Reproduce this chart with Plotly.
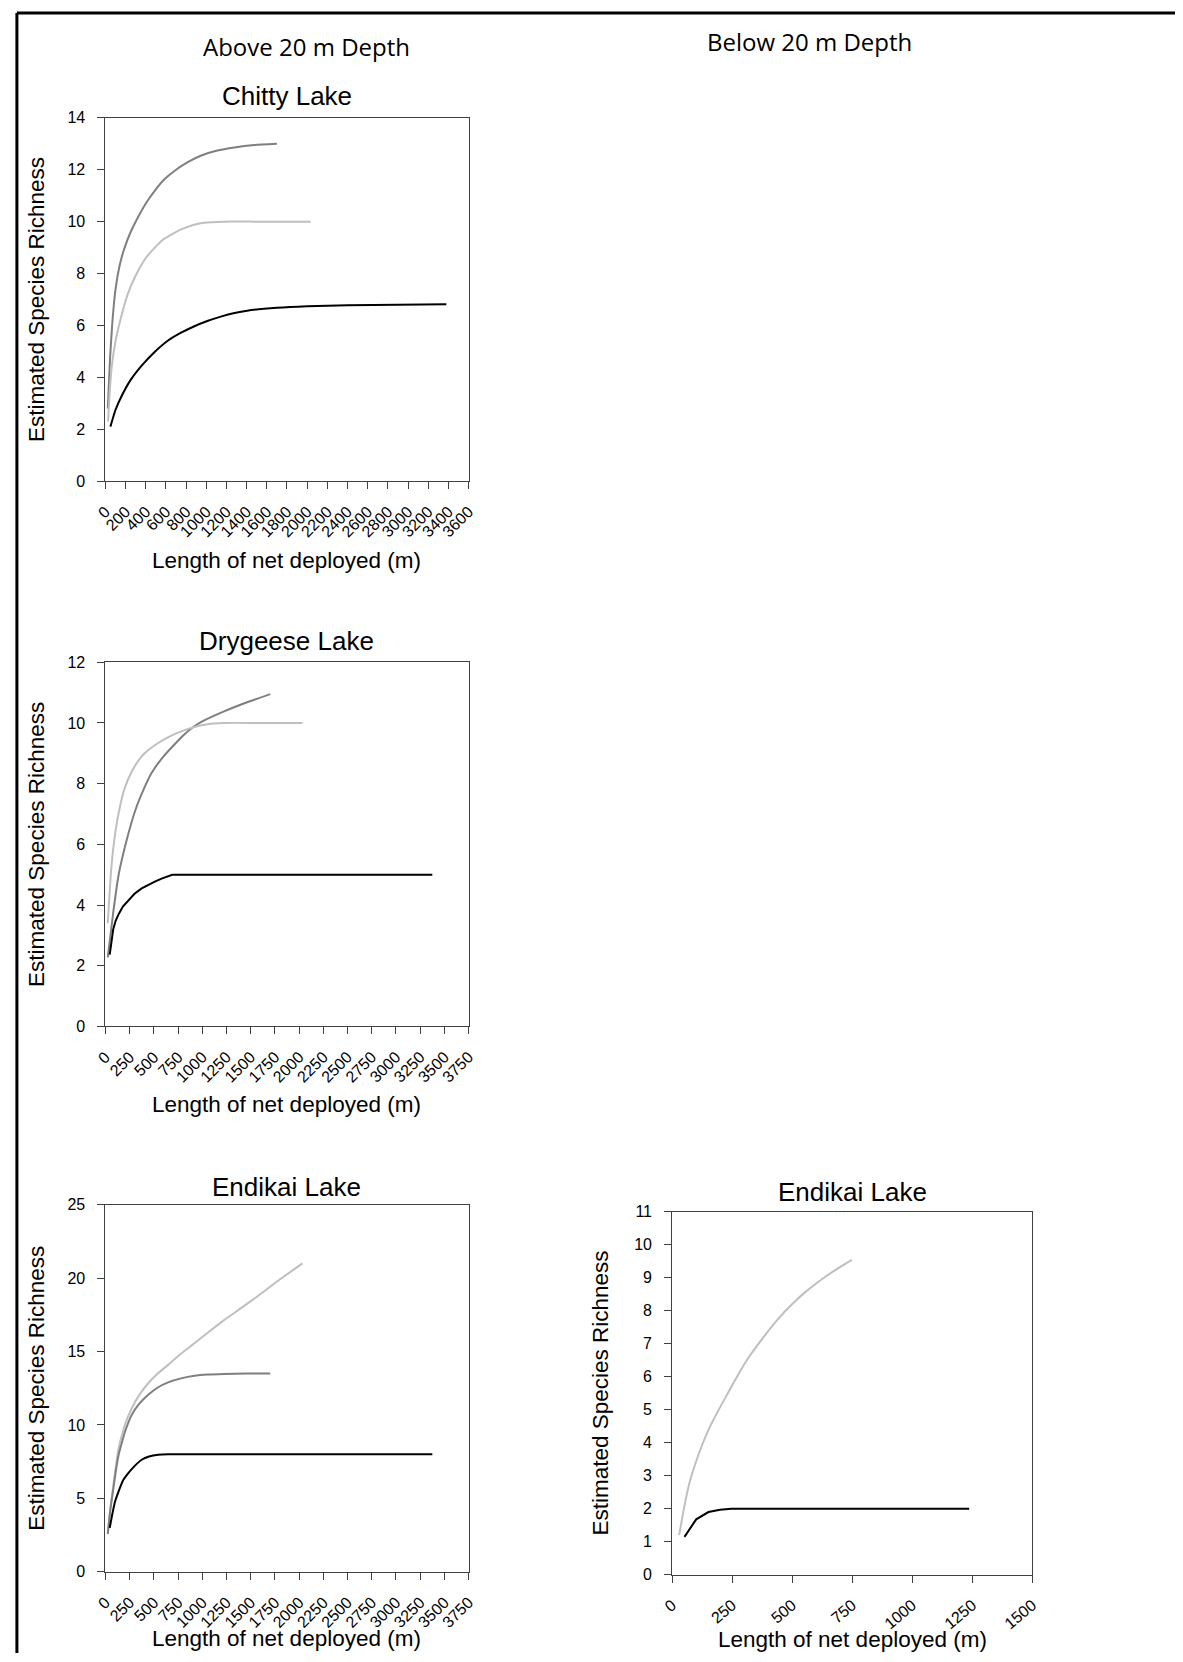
import plotly.graph_objects as go

# ---- figure size (pixels) ----
W, H = 1183, 1662

# ---- rarefaction curves: length of net deployed (m) vs estimated species richness ----
# Chitty Lake (above 20 m)
chitty_dark_x = [23, 45, 70, 100, 140, 190, 250, 320, 400, 490, 590, 700, 820, 950, 1100, 1280, 1480, 1700]
chitty_dark_y = [2.8, 4.7, 6.2, 7.4, 8.3, 9.0, 9.6, 10.15, 10.7, 11.2, 11.65, 12.0, 12.3, 12.55, 12.73, 12.86, 12.95, 13.0]
chitty_light_x = [26, 45, 65, 100, 147, 220, 310, 400, 490, 570, 653, 740, 817, 900, 980, 1176, 1500, 2035]
chitty_light_y = [2.3, 3.6, 4.5, 5.4, 6.2, 7.2, 8.0, 8.6, 9.0, 9.3, 9.5, 9.68, 9.8, 9.9, 9.96, 10.0, 10.0, 10.0]
chitty_black_x = [49, 100, 163, 250, 359, 480, 621, 750, 882, 1010, 1144, 1280, 1405, 1700, 2000, 2400, 2900, 3380]
chitty_black_y = [2.1, 2.75, 3.3, 3.9, 4.45, 4.95, 5.42, 5.72, 5.97, 6.17, 6.34, 6.48, 6.57, 6.68, 6.74, 6.78, 6.8, 6.82]

# Drygeese Lake (above 20 m)
dry_dark_x = [24, 80, 136, 220, 306, 400, 476, 600, 715, 800, 900, 1000, 1225, 1463, 1702]
dry_dark_y = [2.28, 3.75, 5.0, 6.15, 7.1, 7.85, 8.35, 8.9, 9.3, 9.58, 9.85, 10.05, 10.38, 10.68, 10.95]
dry_light_x = [24, 60, 102, 150, 204, 280, 374, 460, 545, 660, 783, 900, 1055, 1225, 1600, 2035]
dry_light_y = [3.4, 5.2, 6.4, 7.25, 7.9, 8.45, 8.9, 9.15, 9.34, 9.55, 9.72, 9.85, 9.96, 10.0, 10.0, 10.0]
dry_black_x = [44, 60, 80, 105, 136, 180, 238, 300, 374, 440, 510, 580, 640, 690, 1500, 3376]
dry_black_y = [2.37, 2.8, 3.2, 3.48, 3.7, 3.95, 4.17, 4.37, 4.55, 4.67, 4.77, 4.87, 4.94, 5.0, 5.0, 5.0]

# Endikai Lake (above 20 m)
end_a_dark_x = [24, 50, 80, 108, 136, 170, 200, 272, 350, 442, 540, 647, 780, 919, 1060, 1225, 1450, 1702]
end_a_dark_y = [2.58, 4.2, 5.6, 6.9, 7.97, 8.8, 9.5, 10.69, 11.45, 12.05, 12.55, 12.9, 13.17, 13.35, 13.43, 13.47, 13.5, 13.5]
end_a_light_x = [24, 50, 80, 108, 136, 170, 200, 272, 350, 442, 540, 647, 780, 919, 1060, 1225, 1400, 1565, 1800, 2035]
end_a_light_y = [2.58, 4.3, 5.8, 7.2, 8.42, 9.3, 10.0, 11.14, 12.05, 12.84, 13.5, 14.09, 14.85, 15.56, 16.3, 17.14, 17.95, 18.73, 19.9, 21.0]
end_a_black_x = [44, 70, 100, 136, 180, 238, 300, 374, 450, 545, 650, 1500, 3376]
end_a_black_y = [2.99, 3.9, 4.8, 5.48, 6.2, 6.73, 7.2, 7.63, 7.85, 7.97, 8.0, 8.0, 8.0]

# Endikai Lake (below 20 m)
end_b_light_x = [29, 50, 72, 110, 151, 190, 231, 270, 310, 350, 390, 430, 470, 510, 549, 590, 629, 690, 748]
end_b_light_y = [1.2, 2.05, 2.79, 3.65, 4.39, 4.95, 5.49, 6.0, 6.49, 6.9, 7.29, 7.65, 7.98, 8.27, 8.53, 8.77, 8.98, 9.28, 9.54]
end_b_black_x = [51, 100, 151, 199, 247, 1237]
end_b_black_y = [1.15, 1.68, 1.9, 1.97, 2.0, 2.0]

# ---- axis ranges / tick spacing ----
chitty_x_range, chitty_x_dtick, chitty_y_range, chitty_y_dtick = [0, 3600], 200, [0, 14], 2
dry_x_range, dry_x_dtick, dry_y_range, dry_y_dtick = [0, 3750], 250, [0, 12], 2
end_a_x_range, end_a_x_dtick, end_a_y_range, end_a_y_dtick = [0, 3750], 250, [0, 25], 5
end_b_x_range, end_b_x_dtick, end_b_y_range, end_b_y_dtick = [0, 1500], 250, [0, 11], 1

panel_titles = ["Chitty Lake", "Drygeese Lake", "Endikai Lake", "Endikai Lake"]
column_titles = ["Above 20 m Depth", "Below 20 m Depth"]
x_title = "Length of net deployed (m)"
y_title = "Estimated Species Richness"

DARK, LIGHT, BLACK = "#7f7f7f", "#bfbfbf", "#000000"
AXIS_COLOR = "#404040"
FONT = "Liberation Sans, Arial, sans-serif"


def px_x(p):
    return p / W


def px_y(p):
    return 1 - p / H


# plot-area boxes in pixels: (left, right, top, bottom)
boxes = [
    (96, 465, 111, 478),
    (96, 465, 661, 1029),
    (96, 465, 1209, 1580),
    (672, 1038, 1216, 1583),
]
# per panel: x tick angle, title y, x-title y, y-title x
tick_angles = [-45, -45, -45, -40]
title_y = [89, 640, 1191, 1196]
xtitle_y = [558, 1108, 1647, 1648]
ytitle_x = [26, 26, 26, 599]

panels = [
    ([(chitty_dark_x, chitty_dark_y, DARK, "spline"), (chitty_light_x, chitty_light_y, LIGHT, "spline"),
      (chitty_black_x, chitty_black_y, BLACK, "spline")],
     chitty_x_range, chitty_x_dtick, chitty_y_range, chitty_y_dtick),
    ([(dry_dark_x, dry_dark_y, DARK, "spline"), (dry_light_x, dry_light_y, LIGHT, "spline"),
      (dry_black_x, dry_black_y, BLACK, "linear")],
     dry_x_range, dry_x_dtick, dry_y_range, dry_y_dtick),
    ([(end_a_light_x, end_a_light_y, LIGHT, "spline"), (end_a_dark_x, end_a_dark_y, DARK, "spline"),
      (end_a_black_x, end_a_black_y, BLACK, "spline")],
     end_a_x_range, end_a_x_dtick, end_a_y_range, end_a_y_dtick),
    ([(end_b_light_x, end_b_light_y, LIGHT, "spline"), (end_b_black_x, end_b_black_y, BLACK, "linear")],
     end_b_x_range, end_b_x_dtick, end_b_y_range, end_b_y_dtick),
]

fig = go.Figure()
layout = dict(
    width=W, height=H,
    margin=dict(l=0, r=0, t=0, b=0),
    paper_bgcolor="white", plot_bgcolor="white",
    showlegend=False,
    font=dict(family=FONT, color="#000000"),
)

annotations = []
for i, ((series, xr, xd, yr, yd), box) in enumerate(zip(panels, boxes)):
    n = "" if i == 0 else str(i + 1)
    xa, ya = "x" + n, "y" + n
    for xs, ys, col, shape in series:
        line = dict(color=col, width=2, shape=shape)
        if shape == "spline":
            line["smoothing"] = 0.5
        fig.add_trace(go.Scatter(x=xs, y=ys, mode="lines", xaxis=xa, yaxis=ya,
                                 line=line, hoverinfo="skip"))
    l, r, t, b = box
    common = dict(showline=True, linecolor=AXIS_COLOR, linewidth=1, mirror=True,
                  ticks="outside", ticklen=7, tickcolor=AXIS_COLOR, tickwidth=1,
                  showgrid=False, zeroline=False,
                  tickfont=dict(size=16, family=FONT, color="#000000"))
    layout["xaxis" + n] = dict(domain=[px_x(l), px_x(r)], range=xr, dtick=xd, tick0=0,
                               tickangle=tick_angles[i], ticklabelstandoff=7,
                               anchor=ya, **common)
    layout["yaxis" + n] = dict(domain=[px_y(b), px_y(t)], range=yr, dtick=yd, tick0=0,
                               ticklabelstandoff=9, anchor=xa, **common)
    cx = (l + r) / 2
    # panel title
    annotations.append(dict(text=panel_titles[i], x=px_x(cx), y=px_y(title_y[i]),
                            xref="paper", yref="paper", showarrow=False,
                            xanchor="center", yanchor="middle",
                            font=dict(size=26, family=FONT, color="#000000")))
    # x-axis title
    annotations.append(dict(text=x_title, x=px_x(cx), y=px_y(xtitle_y[i]),
                            xref="paper", yref="paper", showarrow=False,
                            xanchor="center", yanchor="middle",
                            font=dict(size=22.5, family=FONT, color="#000000")))
    # y-axis title
    annotations.append(dict(text=y_title, x=px_x(ytitle_x[i]), y=px_y((t + b) / 2),
                            xref="paper", yref="paper", showarrow=False, textangle=-90,
                            xanchor="center", yanchor="middle",
                            font=dict(size=22.5, family=FONT, color="#000000")))

# column headings
for txt, cx, cy in zip(column_titles, [300, 812], [39, 34]):
    annotations.append(dict(text=txt, x=px_x(cx), y=px_y(cy), xref="paper", yref="paper",
                            showarrow=False, xanchor="center", yanchor="middle",
                            font=dict(size=24, family="Open Sans, sans-serif", color="#000000")))

layout["annotations"] = annotations
# outer frame: top and left edges
layout["shapes"] = [
    dict(type="line", xref="paper", yref="paper", x0=px_x(6), x1=1, y0=px_y(5), y1=px_y(5),
         line=dict(color="#000000", width=3)),
    dict(type="line", xref="paper", yref="paper", x0=px_x(6), x1=px_x(6), y0=px_y(5), y1=0,
         line=dict(color="#000000", width=3)),
]

fig.update_layout(**layout)
fig.write_html("out.html", config={"displayModeBar": False})
